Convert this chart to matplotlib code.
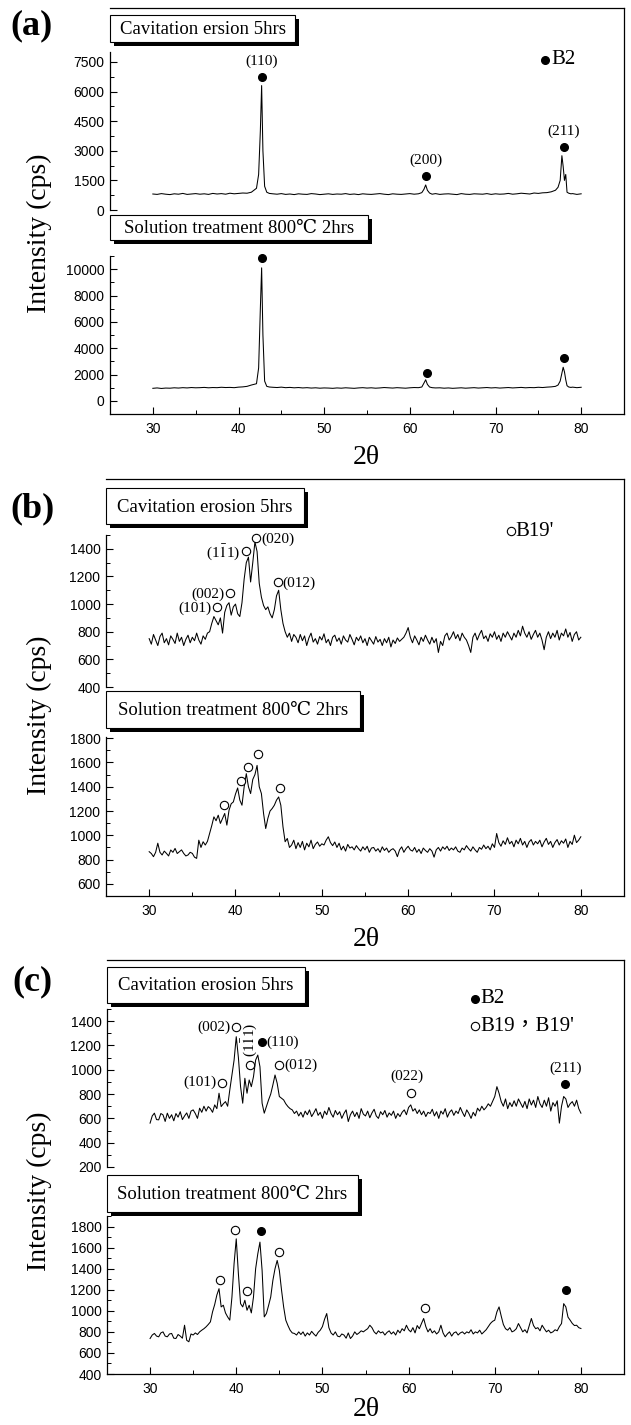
import numpy as np
import matplotlib
matplotlib.use('Agg')
import matplotlib.pyplot as plt
from matplotlib.patches import Rectangle
from matplotlib.ticker import MultipleLocator

W, H = 631, 1425
SERIF = ['Liberation Serif', 'DejaVu Serif', 'Noto Sans CJK TC']
SANS = ['Liberation Sans', 'DejaVu Sans']
plt.rcParams['font.family'] = SANS
plt.rcParams['mathtext.fontset'] = 'stix'

# ---------------- data ----------------
# (a) B2 phase: nonuniform sampling (baseline + sharp peaks)
a_x = np.concatenate([np.arange(30, 41.01, 0.5),
                      [41.5, 41.8, 42.1, 42.35, 42.55, 42.7, 42.85, 43.05, 43.3, 43.6],
                      np.arange(44, 61.01, 0.5),
                      [61.4, 61.65, 61.85, 62.05, 62.3, 62.6, 63.0],
                      np.arange(63.5, 77.01, 0.5),
                      [77.3, 77.55, 77.75, 77.9, 78.05, 78.2, 78.35, 78.55, 78.8],
                      [79.0, 79.5, 80.0]])
a_cav = [810, 790, 830, 800, 780, 820, 800, 840, 790, 810, 830, 800, 820, 790, 840, 810, 830, 800, 850, 820, 840, 860, 850,
         900, 1000, 1100, 1800, 4000, 6300, 3000, 1200, 900, 840,
         820, 800, 830, 790, 810, 780, 820, 800, 790, 830, 810, 780, 800, 820, 790, 810, 800, 830, 790, 810,
         780, 820, 800, 790, 810, 830, 800, 780, 820, 800, 790, 810, 830, 800, 820,
         880, 1050, 1270, 1000, 860, 800, 830,
         790, 810, 820, 800, 780, 830, 800, 790, 820, 810, 800, 830, 790, 820, 800, 810, 840, 800, 820, 850,
         830, 810, 860, 840, 870, 880, 920, 1000,
         1150, 1500, 2750, 2200, 1500, 1800, 900, 850, 820,
         830, 790, 820]
a_sol = [950, 980, 940, 970, 960, 990, 970, 1000, 980, 1010, 990, 1000, 1020, 990, 1010, 1000, 1030, 1010, 1020, 1000,
         1040, 1060, 1100,
         1200, 1250, 1300, 2500, 7000, 10100, 5000, 1500, 1100, 1050,
         1030, 1010, 1040, 1000, 1020, 990, 1010, 980, 1000, 970, 990, 960, 980, 970, 950, 980, 960, 990, 970, 950,
         980, 1000, 970, 990, 960, 980, 1010, 990, 970, 1000, 980, 960, 990, 1010, 1000,
         1050, 1350, 1600, 1250, 1050, 1000, 980,
         990, 960, 980, 950, 970, 990, 960, 980, 1000, 970, 990, 1010, 980, 1000, 970, 990, 1010, 980, 1000, 1020,
         990, 1010, 1000, 1030, 1010, 1040, 1060, 1100,
         1200, 1500, 2100, 2550, 2200, 1600, 1150, 1050, 1020,
         1040, 1000, 1030]

# (b), (c): 0.25 degree grid from 30 to 80
grid = np.linspace(30, 80, 201)
b_cav = [750, 710, 780, 740, 700, 765, 790, 720, 750, 705, 770, 745, 715, 790, 730, 760, 700, 745, 775, 720,
         760, 735, 790, 740, 710, 770, 745, 790,
         800, 860, 910, 880, 850, 900, 790, 940, 990, 1010,
         920, 980, 1000, 930, 910, 1010, 1180, 1300, 1340, 1160,
         1300, 1450, 1380, 1150, 1050, 990, 960, 980, 930, 900,
         960, 1060, 1100, 960, 860, 800, 760, 790, 730, 780,
         760, 720, 780, 735, 770, 700, 755, 790, 725, 750,
         710, 765, 740, 785, 720, 745, 700, 760, 775, 730,
         755, 710, 770, 740, 725, 780, 745, 705, 760, 735,
         770, 720, 750, 700, 760, 735, 710, 765, 725, 745,
         700, 750, 720, 760, 690, 740, 715, 755, 730, 745,
         760, 790, 830, 760, 720, 770, 740, 705, 760, 730,
         775, 740, 710, 760, 720, 750, 650, 730, 700, 770,
         790, 740, 765, 800, 750, 780, 735, 790, 760, 740,
         700, 650, 760, 790, 740, 780, 810, 750, 770, 730,
         785, 760, 800, 745, 775, 730, 790, 760, 800, 770,
         740, 790, 760, 810, 770, 840, 790, 760, 800, 745,
         780, 810, 760, 790, 740, 670, 760, 800, 750, 790,
         760, 810, 740, 790, 770, 820, 760, 795, 730, 780,
         800, 740, 760]
b_sol = [865, 850, 824, 860, 935, 860, 838, 870, 851, 830,
         879, 860, 892, 850, 865, 880, 851, 830, 838, 860,
         851, 820, 810, 960, 900, 947, 920, 950, 1015, 1080,
         1152, 1120, 1166, 1098, 1140, 1180, 1084, 1207, 1260, 1275,
         1340, 1390, 1290, 1248, 1398, 1508, 1400, 1344, 1460, 1500,
         1576, 1400, 1344, 1180, 1056, 1140, 1200, 1221, 1248, 1290,
         1316, 1248, 1070, 947, 974, 900, 920, 960, 890, 940,
         900, 950, 880, 935, 905, 960, 890, 925, 945, 910,
         930, 920, 960, 988, 940, 915, 945, 900, 935, 880,
         910, 870, 925, 895, 905, 880, 915, 890, 870, 905,
         880, 910, 860, 895, 900, 870, 890, 860, 905, 875,
         895, 860, 880, 890, 870, 824, 880, 905, 860, 890,
         910, 880, 870, 900, 860, 885, 850, 895, 875, 860,
         890, 870, 820, 880, 900, 870, 905, 885, 910, 875,
         895, 880, 905, 870, 860, 895, 880, 915, 890, 870,
         905, 880, 860, 900, 885, 920, 890, 910, 880, 930,
         900, 1015, 940, 910, 955, 925, 980, 930, 950, 905,
         960, 930, 975, 920, 950, 900, 945, 965, 920, 950,
         930, 960, 905, 945, 975, 925, 950, 900, 940, 965,
         920, 955, 935, 970, 900, 950, 925, 1001, 940, 960,
         988]
c_cav = [561, 620, 643, 590, 588, 640, 629, 575, 643, 600,
         630, 580, 640, 610, 655, 590, 620, 645, 600, 660,
         670, 640, 600, 684, 650, 700, 660, 697, 680, 650,
         711, 680, 807, 697, 720, 738, 700, 834, 960, 1080,
         1272, 1100, 861, 725, 930, 807, 916, 861, 943, 1080,
         1121, 1025, 725, 643, 697, 752, 800, 875, 957, 889,
         780, 766, 752, 720, 697, 680, 670, 640, 660, 620,
         650, 610, 660, 630, 670, 615, 645, 680, 625, 650,
         600, 660, 630, 690, 640, 610, 665, 630, 655, 600,
         640, 670, 574, 630, 660, 615, 650, 600, 680, 635,
         620, 660, 605, 645, 675, 620, 600, 655, 630, 665,
         610, 645, 625, 660, 600, 640, 615, 650, 670, 630,
         690, 711, 660, 680, 640, 670, 630, 660, 615, 650,
         640, 675, 620, 655, 600, 660, 635, 680, 610, 650,
         670, 625, 660, 640, 690, 650, 615, 670, 640, 600,
         650, 620, 684, 660, 700, 670, 690, 720, 700, 740,
         780, 861, 807, 738, 700, 760, 680, 730, 697, 745,
         700, 760, 725, 690, 740, 680, 760, 710, 750, 690,
         780, 720, 690, 750, 700, 770, 660, 730, 700, 745,
         561, 700, 780, 760, 690, 720, 738, 700, 750, 680,
         643]
c_sol = [737, 770, 785, 760, 753, 790, 800, 760, 753, 780,
         785, 740, 737, 775, 760, 740, 863, 720, 706, 780,
         770, 790, 775, 800, 816, 830, 848, 870, 895, 990,
         1060, 1150, 1210, 1037, 1053, 980, 942, 911, 1131, 1450,
         1683, 1350, 1068, 1037, 1100, 1005, 1053, 980, 1131, 1400,
         1541, 1652, 1384, 942, 974, 1050, 1131, 1289, 1400, 1478,
         1384, 1200, 1037, 911, 860, 816, 790, 785, 770, 800,
         775, 800, 760, 790, 770, 805, 780, 760, 795, 816,
         850, 920, 974, 840, 790, 770, 800, 760, 753, 780,
         770, 740, 790, 737, 760, 800, 775, 790, 810, 800,
         816, 830, 863, 840, 800, 780, 810, 790, 800, 770,
         795, 810, 780, 800, 770, 816, 790, 830, 810, 863,
         820, 800, 840, 790, 860, 830, 880, 927, 850, 800,
         830, 790, 810, 780, 800, 863, 790, 753, 780, 800,
         760, 790, 800, 770, 790, 800, 780, 800, 790, 820,
         780, 800, 790, 816, 780, 800, 820, 850, 880, 900,
         911, 990, 1037, 950, 870, 830, 816, 840, 800, 810,
         830, 879, 840, 800, 820, 790, 860, 927, 860, 830,
         840, 810, 863, 830, 800, 816, 790, 800, 820, 810,
         850, 879, 1068, 1037, 940, 911, 880, 860, 863, 840,
         832]

x_major = [30, 40, 50, 60, 70, 80]
x_minor = [35, 45, 55, 65, 75]
box_cav_a = "Cavitation ersion 5hrs"
box_cav = "Cavitation erosion 5hrs"
box_sol = "Solution treatment 800\u2103 2hrs"

# peak markers: (x, y)
a_cav_b2 = [(42.75, 6750), (61.85, 1730), (77.95, 3180)]
a_cav_lbl = ["(110)", "(200)", "(211)"]
a_sol_b2 = [(42.75, 10850), (61.95, 2140), (78.0, 3270)]
b_cav_b19 = [(37.9, 980), (39.4, 1080), (41.2, 1383), (42.4, 1480), (44.9, 1158)]
b_cav_lbl = ["(101)", "(002)", r"(1$\bar{1}$1)", "(020)", "(012)"]
b_sol_b19 = [(38.7, 1248), (40.6, 1448), (41.4, 1562), (42.6, 1672), (45.2, 1390)]
c_cav_b19 = [(38.3, 894), (39.97, 1348), (41.6, 1039), (45.0, 1039), (60.3, 812)]
c_cav_b2 = [(43.0, 1225), (78.2, 881)]
c_sol_b19 = [(38.1, 1289), (39.9, 1769), (41.2, 1188), (45.0, 1557), (61.96, 1031)]
c_sol_b2 = [(42.9, 1762), (78.3, 1195)]

# ---------------- figure ----------------
fig = plt.figure(figsize=(W / 100, H / 100), dpi=100)


def ax_px(l, t, r, b):
    return fig.add_axes([l / W, 1 - b / H, (r - l) / W, (b - t) / H])


def ftext(x, y, s, **kw):
    kw.setdefault('family', SERIF)
    return fig.text(x / W, 1 - y / H, s, **kw)


def label_box(x0, y0, x1, y1, text, fs=13.5):
    sh = 4
    fig.add_artist(Rectangle(((x0 + sh) / W, 1 - (y1 + sh) / H), (x1 - x0) / W, (y1 - y0) / H,
                             transform=fig.transFigure, facecolor='black', edgecolor='none', zorder=5))
    fig.add_artist(Rectangle((x0 / W, 1 - y1 / H), (x1 - x0) / W, (y1 - y0) / H,
                             transform=fig.transFigure, facecolor='white', edgecolor='black',
                             lw=0.8, zorder=6))
    ftext((x0 + x1) / 2, (y0 + y1) / 2 + 1, text, ha='center', va='center', fontsize=fs, zorder=7)


def style_y(ax, ylim, major, minor):
    ax.set_xlim(25, 85)
    ax.set_ylim(*ylim)
    ax.set_yticks(major)
    ax.yaxis.set_minor_locator(MultipleLocator(minor))
    ax.tick_params(axis='y', which='major', direction='in', length=5, width=0.8,
                   labelsize=10, pad=4)
    ax.tick_params(axis='y', which='minor', direction='in', length=3, width=0.7)
    ax.patch.set_visible(False)
    for s in ('top', 'right'):
        ax.spines[s].set_visible(False)
    ax.spines['left'].set_linewidth(0.9)


def panel(letter, left, top, up_box, lo_box, box1, box2, box1_text,
          up_ylim, up_major, up_minor, lo_ylim, lo_major, lo_minor,
          up_x, up_y, lo_x, lo_y, letter_y, xlabel_y):
    right = 624
    bottom = lo_box[1]
    frame = ax_px(left, top, right, bottom)
    frame.set_xticks([])
    frame.set_yticks([])
    frame.patch.set_visible(False)
    frame.spines['left'].set_visible(False)
    frame.spines['bottom'].set_visible(False)
    for s in ('top', 'right'):
        frame.spines[s].set_linewidth(0.9)

    au = ax_px(left, up_box[0], right, up_box[1])
    style_y(au, up_ylim, up_major, up_minor)
    au.spines['bottom'].set_visible(False)
    au.set_xticks([])
    au.plot(up_x, up_y, color='black', lw=0.75)

    al = ax_px(left, lo_box[0], right, lo_box[1])
    style_y(al, lo_ylim, lo_major, lo_minor)
    al.spines['bottom'].set_linewidth(0.9)
    al.set_xticks(x_major)
    al.set_xticks(x_minor, minor=True)
    al.tick_params(axis='x', which='major', direction='in', length=5, width=0.8,
                   labelsize=10, pad=6)
    al.tick_params(axis='x', which='minor', direction='in', length=3, width=0.7)
    al.plot(lo_x, lo_y, color='black', lw=0.75)

    label_box(box1[0], box1[1], box1[2], box1[3], box1_text)
    label_box(box2[0], box2[1], box2[2], box2[3], box_sol)

    ftext(32, letter_y, letter, ha='center', va='center', fontsize=26, fontweight='bold')
    ftext(39, (up_box[0] + bottom) / 2, "Intensity (cps)", ha='center', va='center',
          rotation=90, fontsize=20)
    ftext(366, xlabel_y, "2\u03b8", ha='center', va='center', fontsize=20)
    return au, al


def filled(ax, pts):
    for x, y in pts:
        ax.plot(x, y, 'o', ms=5.5, color='black', clip_on=False, zorder=4)


def hollow(ax, pts):
    for x, y in pts:
        ax.plot(x, y, 'o', ms=6, mfc='white', mec='black', mew=0.8, clip_on=False, zorder=4)


def ptext(ax, x, y, s, fs=11, **kw):
    kw.setdefault('ha', 'center')
    kw.setdefault('va', 'center')
    ax.text(x, y, s, family=SERIF, fontsize=fs, clip_on=False, **kw)


# ---- panel (a) ----
au, al = panel("(a)", 110, 8, (52, 210), (256, 414), (110, 15, 295, 42), (110, 215, 368, 240),
               box_cav_a, (0, 8000), np.arange(0, 7501, 1500), 750,
               (-1000, 11000), np.arange(0, 10001, 2000), 1000,
               a_x, a_cav, a_x, a_sol, 26, 458)
filled(au, a_cav_b2)
for (x, y), s in zip(a_cav_b2, a_cav_lbl):
    ptext(au, x, y + 800, s)
filled(au, [(75.8, 7600)])
ptext(au, 76.5, 7600, "B2", fs=15, ha='left')
filled(al, a_sol_b2)

# ---- panel (b) ----
bu, bl = panel("(b)", 106, 479, (535, 687), (737, 896), (106, 488, 304, 524), (106, 691, 360, 728),
               box_cav, (400, 1500), np.arange(400, 1401, 200), 100,
               (500, 1810), np.arange(600, 1801, 200), 100,
               grid, b_cav, grid, b_sol, 509, 940)
hollow(bu, b_cav_b19)
for (x, y), s in zip(b_cav_b19[:3], b_cav_lbl[:3]):
    ptext(bu, x - 0.65, y - 10, s, ha='right')
for (x, y), s in zip(b_cav_b19[3:], b_cav_lbl[3:]):
    ptext(bu, x + 0.55, y - 10, s, ha='left')
hollow(bu, [(71.9, 1528)])
ptext(bu, 72.4, 1525, "B19'", fs=15, ha='left')
hollow(bl, b_sol_b19)

# ---- panel (c) ----
cu, cl = panel("(c)", 107, 960, (1009, 1167), (1216, 1374), (107, 967, 305, 1003), (107, 1175, 358, 1212),
               box_cav, (200, 1500), np.arange(200, 1401, 200), 100,
               (400, 1900), np.arange(400, 1801, 200), 100,
               grid, c_cav, grid, c_sol, 982, 1410)
hollow(cu, c_cav_b19)
filled(cu, c_cav_b2)
ptext(cu, 38.3 - 0.65, 894, "(101)", ha='right')
ptext(cu, 39.97 - 0.65, 1348, "(002)", ha='right')
ptext(cu, 41.6, 1250, r"(1$\bar{1}$1)", rotation=90)
ptext(cu, 43.0 + 0.5, 1225, "(110)", ha='left')
ptext(cu, 45.0 + 0.55, 1039, "(012)", ha='left')
ptext(cu, 59.8, 944, "(022)")
ptext(cu, 78.2, 1012, "(211)")
filled(cu, [(67.65, 1586)])
ptext(cu, 68.3, 1586, "B2", fs=15, ha='left')
hollow(cu, [(67.65, 1359)])
ptext(cu, 68.3, 1359, "B19\uff0cB19'", fs=15, ha='left')
hollow(cl, c_sol_b19)
filled(cl, c_sol_b2)

fig.savefig('out.png', dpi=100)
